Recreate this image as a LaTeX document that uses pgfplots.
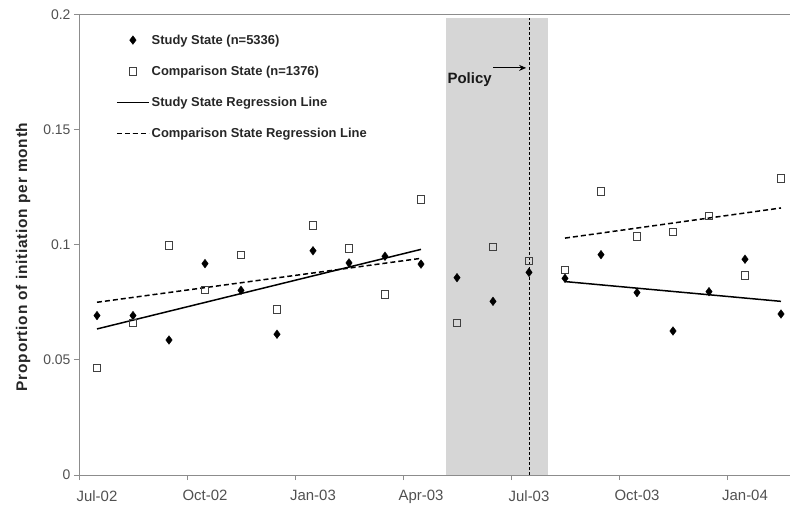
\documentclass[border=0pt]{standalone}
\usepackage{pgfplots}
\pgfplotsset{compat=1.18}
\usetikzlibrary{arrows.meta}
\usepackage{fontspec}
\setmainfont{Liberation Sans}
\newfontfamily\widefont[LetterSpace=5]{Liberation Sans}
\definecolor{axisgray}{HTML}{8C8C8C}
\definecolor{ticktext}{HTML}{505050}
\definecolor{shadegray}{HTML}{D6D6D6}
\definecolor{sqgray}{HTML}{404040}
\begin{document}
\begin{tikzpicture}
\begin{axis}[
  name=ax,
  scale only axis,
  width=711bp, height=460bp,
  xmin=0, xmax=19.75, ymin=0, ymax=0.2,
  axis lines*=left,
  axis line style={axisgray, line width=1bp},
  xtick={0,3,6,9,12,15,18},
  xticklabels={Jul-02,Oct-02,Jan-03,Apr-03,Jul-03,Oct-03,Jan-04},
  ytick={0,0.05,0.1,0.15,0.2},
  yticklabels={0,0.05,0.1,0.15,0.2},
  tick align=outside, major tick length=5bp,
  tick style={axisgray, line width=1bp},
  /pgf/number format/assume math mode=true,
  ticklabel style={font=\fontsize{14}{16}\selectfont, text=ticktext},
  xticklabel style={font=\fontsize{15}{17}\selectfont, xshift=18bp, yshift=-7bp},
  ylabel={Proportion of initiation per month},
  ylabel style={font=\widefont\fontsize{15.5}{17}\selectfont\bfseries, text=black!85,
    at={(axis description cs:-0.0785,0.474)}, anchor=center},
  clip=false,
  legend style={draw=none, fill=none, at={(axis description cs:0.052,0.962)}, anchor=north west,
    font=\fontsize{13}{15}\selectfont\bfseries, text=black!85, row sep=16.3bp, inner sep=0pt},
  legend cell align=left,
  legend image code/.code={\draw[mark repeat=2,mark phase=2,#1] plot coordinates {(0bp,0bp) (16bp,0bp) (32bp,0bp)};},
]
% shaded period
\fill[shadegray] (axis cs:10.2,0) rectangle (axis cs:13.03,0.1987);
% top border
\draw[axisgray, line width=1bp] (axis cs:0,0.2) -- (axis cs:19.75,0.2);
% policy line
\draw[black, line width=0.7bp, dash pattern=on 3bp off 2bp] (axis cs:12.5,0) -- (axis cs:12.5,0.1987);
\draw[black, line width=0.9bp, -{Stealth[length=7bp,width=6bp]}] (axis cs:11.5,0.177) -- (axis cs:12.42,0.177);
\node[font=\fontsize{15}{17}\selectfont\bfseries, text=black!90] at (axis cs:10.85,0.1717) {Policy};

\addplot[only marks, mark=diamond*, mark size=4.3bp, black] coordinates {
 (0.5,0.0693) (1.5,0.0693) (2.5,0.0587) (3.5,0.0919) (4.5,0.0803) (5.5,0.0612)
 (6.5,0.0975) (7.5,0.0922) (8.5,0.0951) (9.5,0.0917) (10.5,0.0858) (11.5,0.0755)
 (12.5,0.0881) (13.5,0.0855) (14.5,0.0958) (15.5,0.0793) (16.5,0.0626) (17.5,0.0797)
 (18.5,0.0938) (19.5,0.0700)};
\addlegendentry{Study State (n=5336)}
\addplot[only marks, mark=square, mark size=3.7bp, sqgray, mark options={line width=0.8bp, fill=white}] coordinates {
 (0.5,0.0465) (1.5,0.0661) (2.5,0.0999) (3.5,0.0804) (4.5,0.0957) (5.5,0.0720)
 (6.5,0.1086) (7.5,0.0986) (8.5,0.0786) (9.5,0.1199) (10.5,0.0661) (11.5,0.0993)
 (12.5,0.0932) (13.5,0.0891) (14.5,0.1233) (15.5,0.1038) (16.5,0.1058) (17.5,0.1127)
 (18.5,0.0867) (19.5,0.1290)};
\addlegendentry{Comparison State (n=1376)}
\addplot[black, line width=1.5bp, no marks] coordinates {(0.5,0.0635) (9.5,0.0981)};
\addlegendentry{Study State Regression Line}
\addplot[black, line width=1.5bp, no marks, dash pattern=on 5bp off 3bp] coordinates {(0.5,0.0751) (9.5,0.0942)};
\addlegendentry{Comparison State Regression Line}
\addplot[black, line width=1.5bp, no marks, forget plot] coordinates {(13.5,0.0841) (19.5,0.0755)};
\addplot[black, line width=1.5bp, no marks, dash pattern=on 5bp off 3bp, forget plot] coordinates {(13.5,0.1030) (19.5,0.1161)};
\end{axis}
\pgfresetboundingbox
\path ([shift={(-79bp,-35bp)}]ax.south west) rectangle ([shift={(0bp,15bp)}]ax.north east);
\end{tikzpicture}
\end{document}
